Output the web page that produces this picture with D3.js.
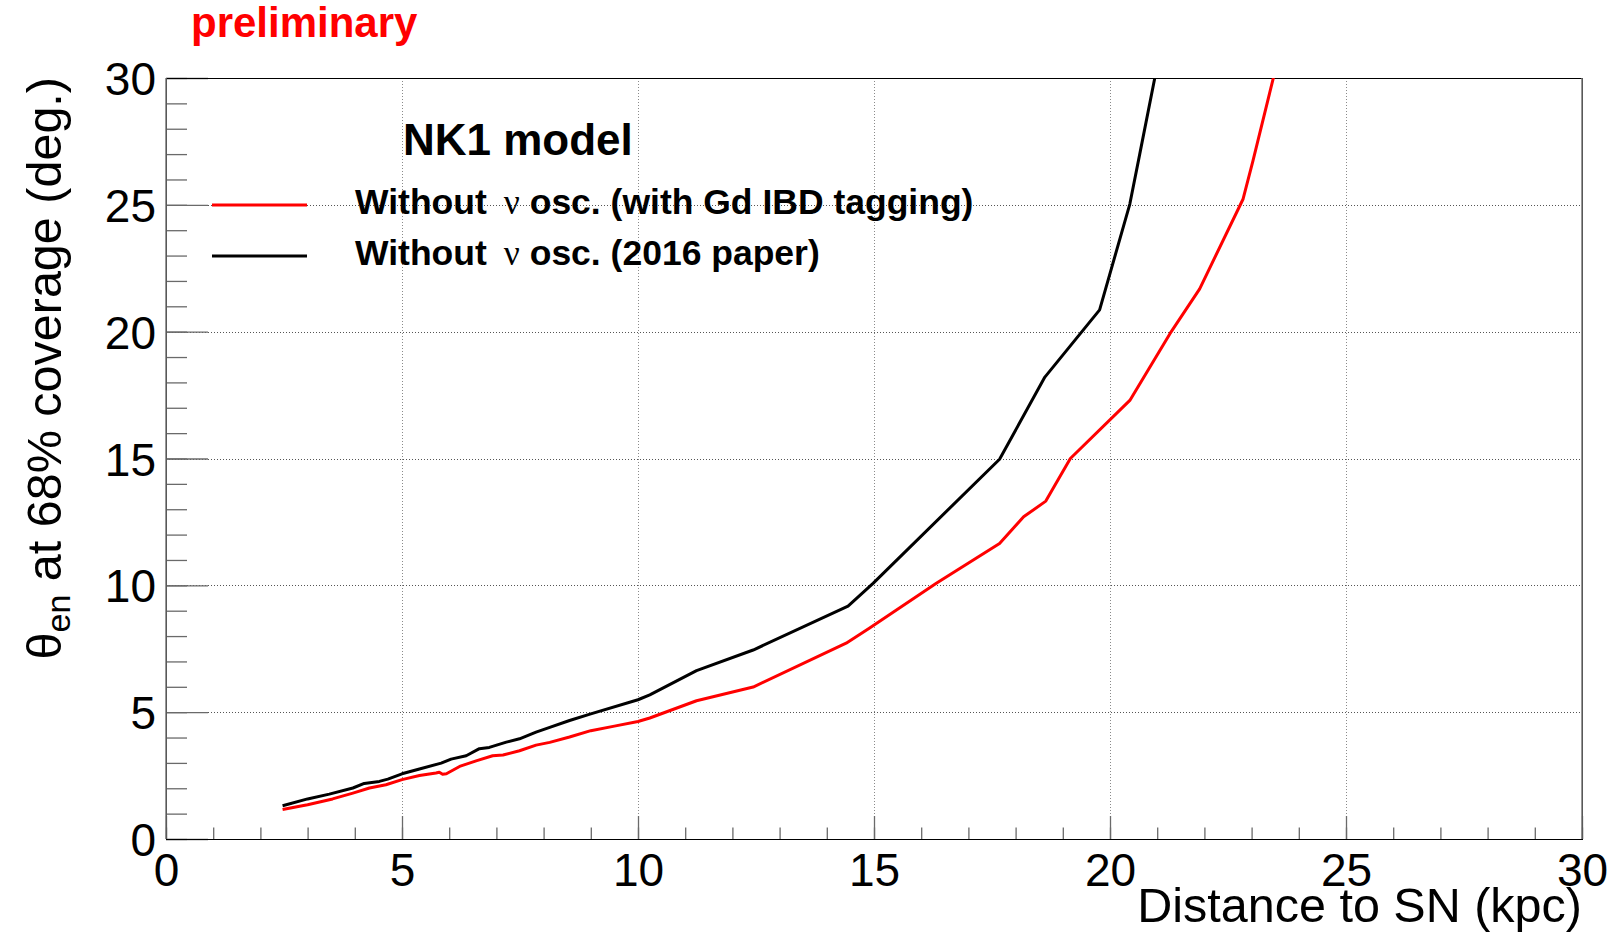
<!DOCTYPE html>
<html>
<head>
<meta charset="utf-8">
<script src="https://cdn.jsdelivr.net/npm/d3@7"></script>
<style>
  html, body { margin: 0; padding: 0; background: #fff; }
  svg { display: block; }
  text { font-family: "Liberation Sans", Arial, Helvetica, sans-serif; }
</style>
</head>
<body>
<svg id="chart" width="1613" height="936"></svg>
<script>
// ---------- data ----------
const redDistance = [2.47, 2.83, 3.0, 3.53, 3.96, 4.31, 4.66, 5.0, 5.37, 5.72, 5.79, 5.86, 5.94, 6.22, 6.57, 6.92, 7.14, 7.49, 7.84, 8.13, 8.55, 9.0, 9.5, 10.0, 10.25, 11.24, 12.44, 14.41, 14.9, 16.32, 17.66, 18.17, 18.64, 19.16, 20.42, 21.27, 21.9, 22.82, 23.03, 23.5];
const redTheta    = [1.16, 1.29, 1.35, 1.58, 1.81, 2.01, 2.14, 2.34, 2.5, 2.6, 2.63, 2.55, 2.57, 2.86, 3.08, 3.28, 3.31, 3.48, 3.7, 3.81, 4.02, 4.27, 4.45, 4.63, 4.77, 5.45, 5.99, 7.72, 8.31, 10.08, 11.65, 12.7, 13.32, 15.0, 17.29, 19.92, 21.69, 25.23, 26.74, 30.3];

const blackDistance = [2.47, 3.0, 3.46, 3.96, 4.2, 4.52, 4.7, 5.0, 5.37, 5.83, 6.04, 6.36, 6.64, 6.85, 7.21, 7.49, 7.84, 8.13, 8.55, 9.0, 10.0, 10.25, 11.24, 12.44, 14.45, 14.98, 17.66, 18.62, 19.78, 20.42, 20.63, 20.97];
const blackTheta    = [1.31, 1.58, 1.77, 2.01, 2.19, 2.27, 2.36, 2.57, 2.76, 2.99, 3.15, 3.28, 3.56, 3.61, 3.82, 3.95, 4.21, 4.4, 4.67, 4.93, 5.49, 5.68, 6.64, 7.45, 9.18, 10.08, 14.97, 18.21, 20.86, 25.03, 27.0, 30.2];

const xMajorTicks = [0, 5, 10, 15, 20, 25, 30];
const yMajorTicks = [0, 5, 10, 15, 20, 25, 30];
const xMinorTicks = d3.range(0, 31, 1);
const yMinorTicks = d3.range(0, 31, 1);

const seriesNames = ["Without", "Without"];
const seriesSuffix = [" osc. (with Gd IBD tagging)", " osc. (2016 paper)"];
const seriesColors = ["#ff0000", "#000000"];
const legendHeader = "NK1 model";
const xTitle = "Distance to SN (kpc)";
const watermark = "preliminary";

// ---------- layout ----------
const svg = d3.select("#chart");
const L = 166, T = 78, R = 1582, B = 839;
const x = d3.scaleLinear().domain([0, 30]).range([L, R]);
const y = d3.scaleLinear().domain([0, 30]).range([B, T]);

svg.append("defs").append("clipPath").attr("id", "frameClip")
  .append("rect").attr("x", L).attr("y", T).attr("width", R - L).attr("height", B - T);

// grid
const grid = svg.append("g");
grid.selectAll(".vg").data(xMajorTicks.filter(v => v > 0 && v < 30)).enter().append("line")
  .attr("x1", d => Math.round(x(d)) + 0.5).attr("x2", d => Math.round(x(d)) + 0.5)
  .attr("y1", T).attr("y2", B)
  .attr("stroke", "#8a8a8a").attr("stroke-width", 1).attr("stroke-dasharray", "1,2")
  .attr("shape-rendering", "crispEdges");
grid.selectAll(".hg").data(yMajorTicks.filter(v => v > 0 && v < 30)).enter().append("line")
  .attr("y1", d => Math.round(y(d)) + 0.5).attr("y2", d => Math.round(y(d)) + 0.5)
  .attr("x1", L).attr("x2", R)
  .attr("stroke", "#555").attr("stroke-width", 1).attr("stroke-dasharray", "1,2")
  .attr("shape-rendering", "crispEdges");

// axes
const tickFont = 46;
const xMinor = svg.append("g").attr("transform", `translate(0,${B})`)
  .call(d3.axisBottom(x).tickValues(xMinorTicks).tickSize(-11.5).tickSizeOuter(0).tickFormat(""));
const xMajor = svg.append("g").attr("transform", `translate(0,${B})`)
  .call(d3.axisBottom(x).tickValues(xMajorTicks).tickSize(-23).tickSizeOuter(0).tickPadding(14).tickFormat(d3.format("d")));
const yMinor = svg.append("g").attr("transform", `translate(${L},0)`)
  .call(d3.axisLeft(y).tickValues(yMinorTicks).tickSize(-21).tickSizeOuter(0).tickFormat(""));
const yMajor = svg.append("g").attr("transform", `translate(${L},0)`)
  .call(d3.axisLeft(y).tickValues(yMajorTicks).tickSize(-42).tickSizeOuter(0).tickPadding(10).tickFormat(d3.format("d")));

[xMinor, xMajor, yMinor, yMajor].forEach(g => {
  g.select(".domain").remove();
  g.selectAll(".tick line").attr("stroke", "#6a6a6a").attr("stroke-width", 1.3);
  g.selectAll(".tick text").attr("font-size", tickFont).attr("fill", "#000")
    .attr("font-family", "Liberation Sans, Arial, sans-serif");
});
yMajor.selectAll(".tick text").attr("dy", "0.36em");

// frame
svg.append("rect").attr("x", L).attr("y", T + 0.5).attr("width", R - L).attr("height", B - T)
  .attr("fill", "none").attr("stroke", "#000").attr("stroke-width", 1)
  .attr("shape-rendering", "crispEdges");
svg.append("line").attr("x1", L).attr("x2", L).attr("y1", T).attr("y2", B)
  .attr("stroke", "#777").attr("stroke-width", 1.5);
svg.append("line").attr("x1", R).attr("x2", R).attr("y1", T).attr("y2", B)
  .attr("stroke", "#777").attr("stroke-width", 1.5);

// curves
const line = d3.line().x(d => x(d[0])).y(d => y(d[1]));
const curves = svg.append("g").attr("clip-path", "url(#frameClip)");
const redData = redDistance.map((d, i) => [d, redTheta[i]]);
const blackData = blackDistance.map((d, i) => [d, blackTheta[i]]);
curves.append("path").datum(redData).attr("d", line)
  .attr("fill", "none").attr("stroke", seriesColors[0]).attr("stroke-width", 3).attr("stroke-linejoin", "round");
curves.append("path").datum(blackData).attr("d", line)
  .attr("fill", "none").attr("stroke", seriesColors[1]).attr("stroke-width", 3).attr("stroke-linejoin", "round");

// legend
svg.append("text").attr("x", 403).attr("y", 155).attr("font-size", 44).attr("font-weight", "bold")
  .text(legendHeader);
const legRows = [205, 256];
legRows.forEach((ly, i) => {
  svg.append("line").attr("x1", 212).attr("x2", 307).attr("y1", ly).attr("y2", ly)
    .attr("stroke", seriesColors[i]).attr("stroke-width", 3);
  const t = svg.append("text").attr("x", 355).attr("y", ly + 9).attr("font-size", 35.5).attr("font-weight", "bold");
  t.append("tspan").text(seriesNames[i]);
  t.append("tspan").attr("dx", 17).attr("font-family", "Liberation Serif, Times New Roman, serif")
    .attr("font-weight", "normal").text("\u03bd");
  t.append("tspan").text(seriesSuffix[i]);
});

// axis titles
svg.append("text").attr("x", R).attr("y", 922).attr("text-anchor", "end").attr("font-size", 48.5)
  .text(xTitle);
const yt = svg.append("text").attr("transform", `translate(61,${T - 1}) rotate(-90)`)
  .attr("text-anchor", "end").attr("font-size", 48.5);
yt.append("tspan").text("\u03b8");
yt.append("tspan").attr("font-size", 34).attr("dy", 9).text("en");
yt.append("tspan").attr("dy", -9).text(" at 68% coverage (deg.)");

// watermark
svg.append("text").attr("x", 191).attr("y", 37).attr("font-size", 42).attr("font-weight", "bold")
  .attr("fill", "#ff0000").text(watermark);
</script>
</body>
</html>
